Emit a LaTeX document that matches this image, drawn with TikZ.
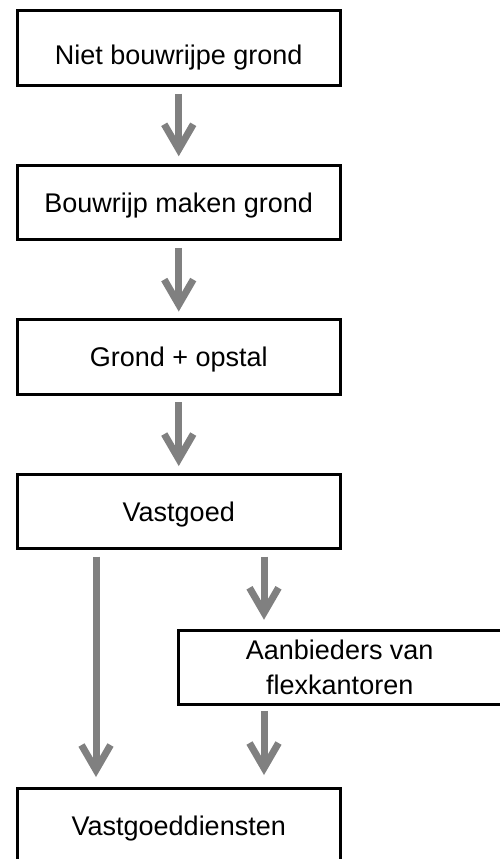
\documentclass[tikz,border=0pt]{standalone}
\usepackage{fontspec}
\setmainfont{Liberation Sans}
\usetikzlibrary{arrows.meta}

\begin{document}
\begin{tikzpicture}[x=1pt, y=-1pt]

	\def\boxw{322.5pt}
	\def\boxh{74.5pt}
	\def\xc{178.75}
	\def\gap{6.5pt}

	% Colours
	\colorlet{flowcolor}{black!50}
	\colorlet{boxcolor}{black}

	% Styles
	\tikzstyle{stage}=[draw=boxcolor, line width=3pt, minimum width=\boxw, minimum height=\boxh, inner sep=0pt, font=\fontsize{27}{35}\selectfont]
	\tikzstyle{oneline}=[stage, text height=19.5pt, text depth=0pt]
	\tikzstyle{flow}=[draw=flowcolor, line width=7pt, -{Straight Barb[length=25pt, width=29pt]}, shorten <=\gap, shorten >=\gap]

	% Page
	\useasboundingbox (0, 0) rectangle (500, 859);
	\clip (0, 0) rectangle (500, 859);

	% Stages
	\node[oneline] (ground) at (\xc, 48.25) {\raisebox{-6pt}{Niet bouwrijpe grond}};
	\node[oneline] (ready) at (\xc, 202.5) {Bouwrijp maken grond};
	\node[oneline] (build) at (\xc, 356.8) {Grond + opstal};
	\node[oneline] (estate) at (\xc, 511.3) {Vastgoed};
	\node[stage, align=center] (flex) at (339.75, 667.5) {Aanbieders van\\flexkantoren};
	\node[oneline] (services) at (\xc, 825.75) {Vastgoeddiensten};

	% Columns of the lower arrows
	\coordinate (lx) at (96, 0);
	\coordinate (rx) at (264, 0);

	% Arrows
	\draw[flow, shorten >=7.5pt] (ground) -- (ready);
	\draw[flow] (ready) -- (build);
	\draw[flow] (build) -- (estate);
	\draw[flow, shorten >=10pt] (estate.south -| lx) -- (services.north -| lx);
	\draw[flow, shorten >=9pt] (estate.south -| rx) -- (flex.north -| rx);
	\draw[flow, shorten <=4.5pt, shorten >=12pt] (flex.south -| rx) -- (services.north -| rx);

\end{tikzpicture}
\end{document}
